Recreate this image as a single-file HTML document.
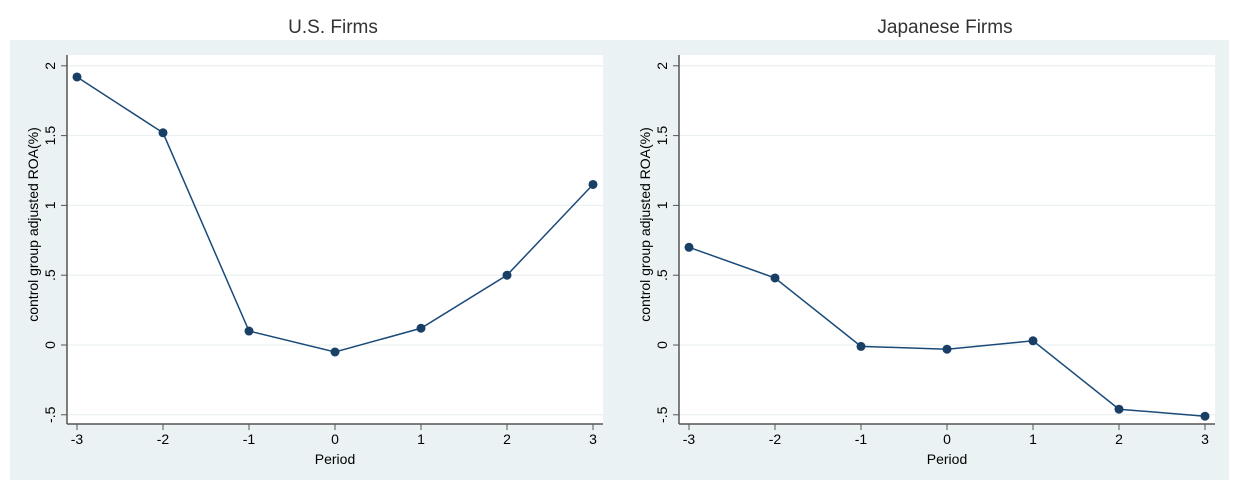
<!DOCTYPE html>
<html><head><meta charset="utf-8"><style>
body{margin:0;background:#fff;width:1240px;height:490px;overflow:hidden}
svg text{font-family:"Liberation Sans",sans-serif}
</style></head><body>
<svg width="1240" height="490">
<rect x="10" y="40" width="1219" height="440" fill="#eaf2f3"/>
<g id="panels"></g>
</svg>
<script>
const periods=[-3,-2,-1,0,1,2,3];
const usValues=[1.92,1.52,0.10,-0.05,0.12,0.50,1.15];
const jpValues=[0.70,0.48,-0.01,-0.03,0.03,-0.46,-0.51];
const yTicks=[-0.5,0,0.5,1,1.5,2];
const yTickLabels=["-.5","0",".5","1","1.5","2"];
const titles=["U.S. Firms","Japanese Firms"];
const NS='http://www.w3.org/2000/svg';
const root=document.getElementById('panels');
function mk(t,a,p){const e=document.createElementNS(NS,t);for(const k in a)e.setAttribute(k,a[k]);(p||root).appendChild(e);return e;}
function panel(ox,title,vals,key){
  const g=mk('g',{});
  
  
  const L=ox+67,R=ox+603,T=55,B=424;
  const xs=v=>ox+77+(v+3)*86;
  const ys=v=>345-v*139.6;
  const bg=mk('rect',{x:L,y:T,width:R-L,height:B-T,fill:'#fff'},g);
  
  
  const tt=mk('text',{x:(L+R)/2-2,y:33,'text-anchor':'middle','font-size':19,fill:'#333'},g);
  tt.textContent=title;
  
  
  yTicks.forEach((v,i)=>{
    const y=ys(v);
    const gl=mk('line',{x1:L,x2:R,y1:y,y2:y,stroke:'#e6eeee','stroke-width':1},g);
    
    
    mk('line',{x1:L-6,x2:L,y1:y,y2:y,stroke:'#555','stroke-width':1},g);
    const t=mk('text',{x:0,y:0,transform:`translate(${L-12},${y}) rotate(-90)`,'text-anchor':'middle','font-size':14,fill:'#000'},g);
    t.textContent=yTickLabels[i];
    
    
  });
  periods.forEach(p=>{
    const x=xs(p);
    mk('line',{x1:x,x2:x,y1:B,y2:B+6,stroke:'#555'},g);
    const t=mk('text',{x:x,y:B+20,'text-anchor':'middle','font-size':14,fill:'#000'},g);
    t.textContent=String(p);
    
    
  });
  mk('line',{x1:L,x2:L,y1:T,y2:B,stroke:'#555','stroke-width':1.5},g);
  mk('line',{x1:L,x2:R,y1:B,y2:B,stroke:'#555','stroke-width':1.5},g);
  const xt=mk('text',{x:(L+R)/2,y:464,'text-anchor':'middle','font-size':14,fill:'#000'},g);
  xt.textContent='Period';
  
  
  const yt=mk('text',{x:0,y:0,transform:`translate(${ox+38},${(T+B)/2-15}) rotate(-90)`,'text-anchor':'middle','font-size':14,fill:'#000'},g);
  yt.textContent='control group adjusted ROA(%)';
  
  
  const pts=periods.map((p,i)=>xs(p)+','+ys(vals[i])).join(' ');
  const pl=mk('polyline',{points:pts,fill:'none',stroke:'#1a4a78','stroke-width':1.5},g);
  
  
  periods.forEach((p,i)=>{
    const c=mk('circle',{cx:xs(p),cy:ys(vals[i]),r:4.5,fill:'#1a3f66'},g);
    
    
  });
}
panel(0,titles[0],usValues,'us');
panel(612,titles[1],jpValues,'jp');
</script>
</body></html>
